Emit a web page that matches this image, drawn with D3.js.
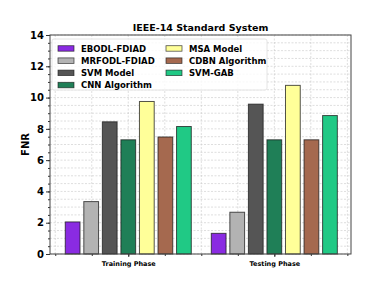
<!DOCTYPE html>
<html>
<head>
<meta charset="utf-8">
<script src="https://cdn.jsdelivr.net/npm/d3@7"></script>
<style>
  body { margin: 0; background: #fff; }
  text { font-family: "DejaVu Sans", sans-serif; font-weight: bold; }
</style>
</head>
<body>
<div id="chart"></div>
<script>
// data
var phases = ["Training Phase", "Testing Phase"];
var models = ["EBODL-FDIAD", "MRFODL-FDIAD", "SVM Model", "CNN Algorithm",
              "MSA Model", "CDBN Algorithm", "SVM-GAB"];
var training = [2.05, 3.35, 8.45, 7.3, 9.75, 7.48, 8.15];
var testing  = [1.32, 2.67, 9.58, 7.3, 10.78, 7.3, 8.85];
var yTicks = [0, 2, 4, 6, 8, 10, 12, 14];
var colors = ["#8a2be2", "#b3b3b3", "#555555", "#1f7f57", "#ffff99", "#a5694f", "#20c985"];

var svgWidth = 372, svgHeight = 288;
var margin = { top: 35, bottom: 34, left: 50, right: 21 };
var chartWidth = svgWidth - margin.left - margin.right;
var chartHeight = svgHeight - margin.top - margin.bottom;

var svg = d3.select("#chart").append("svg")
    .attr("width", svgWidth)
    .attr("height", svgHeight);

var chartGroup = svg.append("g")
    .attr("transform", `translate(${margin.left},${margin.top})`);

// group positions 0 and 1, like matplotlib
var xScale = d3.scaleLinear().domain([-0.536, 1.525]).range([0, chartWidth]);
var yScale = d3.scaleLinear().domain([0, 14]).range([chartHeight, 0]);

var minorX = d3.range(-0.5, 1.51, 0.25);
var minorY = d3.range(0, 14.01, 0.5);

// grid, major and minor, dashed
chartGroup.append("g").selectAll("line.gx")
    .data(minorX).enter().append("line")
    .attr("x1", d => xScale(d)).attr("x2", d => xScale(d))
    .attr("y1", 0).attr("y2", chartHeight)
    .attr("stroke", "#c8c8c8").attr("stroke-width", 0.6)
    .attr("stroke-dasharray", "2,1.5");

chartGroup.append("g").selectAll("line.gy")
    .data(minorY).enter().append("line")
    .attr("y1", d => yScale(d)).attr("y2", d => yScale(d))
    .attr("x1", 0).attr("x2", chartWidth)
    .attr("stroke", "#c8c8c8").attr("stroke-width", 0.6)
    .attr("stroke-dasharray", "2,1.5");

// bars
var step = 0.127, barW = 0.101;
var rows = [training, testing];
rows.forEach(function(vals, g) {
    chartGroup.append("g").selectAll("rect")
        .data(vals).enter().append("rect")
        .attr("x", (d, i) => xScale(g + (i - 3) * step - barW / 2))
        .attr("width", xScale(barW) - xScale(0))
        .attr("y", d => yScale(d))
        .attr("height", d => chartHeight - yScale(d))
        .attr("fill", (d, i) => colors[i])
        .attr("stroke", "#1a1a1a")
        .attr("stroke-opacity", 0.75)
        .attr("stroke-width", 1);
});

// axes
var yAxis = d3.axisLeft(yScale).tickValues(yTicks).tickFormat(d3.format("d"))
    .tickSize(4).tickPadding(2);
var yMinor = d3.axisLeft(yScale).tickValues(minorY).tickFormat("").tickSize(2);
var xAxis = d3.axisBottom(xScale).tickValues([0, 1]).tickFormat((d, i) => phases[i])
    .tickSize(3).tickPadding(4);
var xMinor = d3.axisBottom(xScale).tickValues(minorX).tickFormat("").tickSize(2);

var yg = chartGroup.append("g").call(yAxis);
yg.selectAll("text").style("font-size", "10px").attr("fill", "#000");
chartGroup.append("g").call(yMinor);

var xg = chartGroup.append("g").attr("transform", `translate(0,${chartHeight})`).call(xAxis);
xg.selectAll("text").style("font-size", "6.5px").attr("fill", "#000");
chartGroup.append("g").attr("transform", `translate(0,${chartHeight})`).call(xMinor);

chartGroup.selectAll(".domain").remove();
chartGroup.selectAll(".tick line").attr("stroke", "#333");

// frame
chartGroup.append("rect")
    .attr("width", chartWidth).attr("height", chartHeight)
    .attr("fill", "none").attr("stroke", "#444").attr("stroke-width", 1);

// title and y label
svg.append("text")
    .attr("x", margin.left + chartWidth / 2).attr("y", 31)
    .attr("text-anchor", "middle").style("font-size", "9.5px")
    .text("IEEE-14 Standard System");

svg.append("text")
    .attr("transform", `translate(29,${margin.top + chartHeight / 2}) rotate(-90)`)
    .attr("text-anchor", "middle").style("font-size", "10px")
    .text("FNR");

// legend
var legend = chartGroup.append("g").attr("transform", "translate(2,4)");
legend.append("rect")
    .attr("width", 215).attr("height", 51).attr("rx", 2)
    .attr("fill", "#fff").attr("fill-opacity", 0.8)
    .attr("stroke", "#ddd").attr("stroke-width", 0.8);

var items = legend.selectAll("g.item").data(models).enter().append("g")
    .attr("transform", (d, i) => `translate(${i < 4 ? 6 : 114},${6.7 + (i % 4) * 12.2})`);
items.append("rect")
    .attr("width", 16).attr("height", 5.5)
    .attr("fill", (d, i) => colors[i])
    .attr("stroke", "#1a1a1a").attr("stroke-opacity", 0.75).attr("stroke-width", 0.8);
items.append("text")
    .attr("x", 23).attr("y", 3).attr("dy", "0.35em")
    .style("font-size", "8.5px")
    .text(d => d);
</script>
</body>
</html>
